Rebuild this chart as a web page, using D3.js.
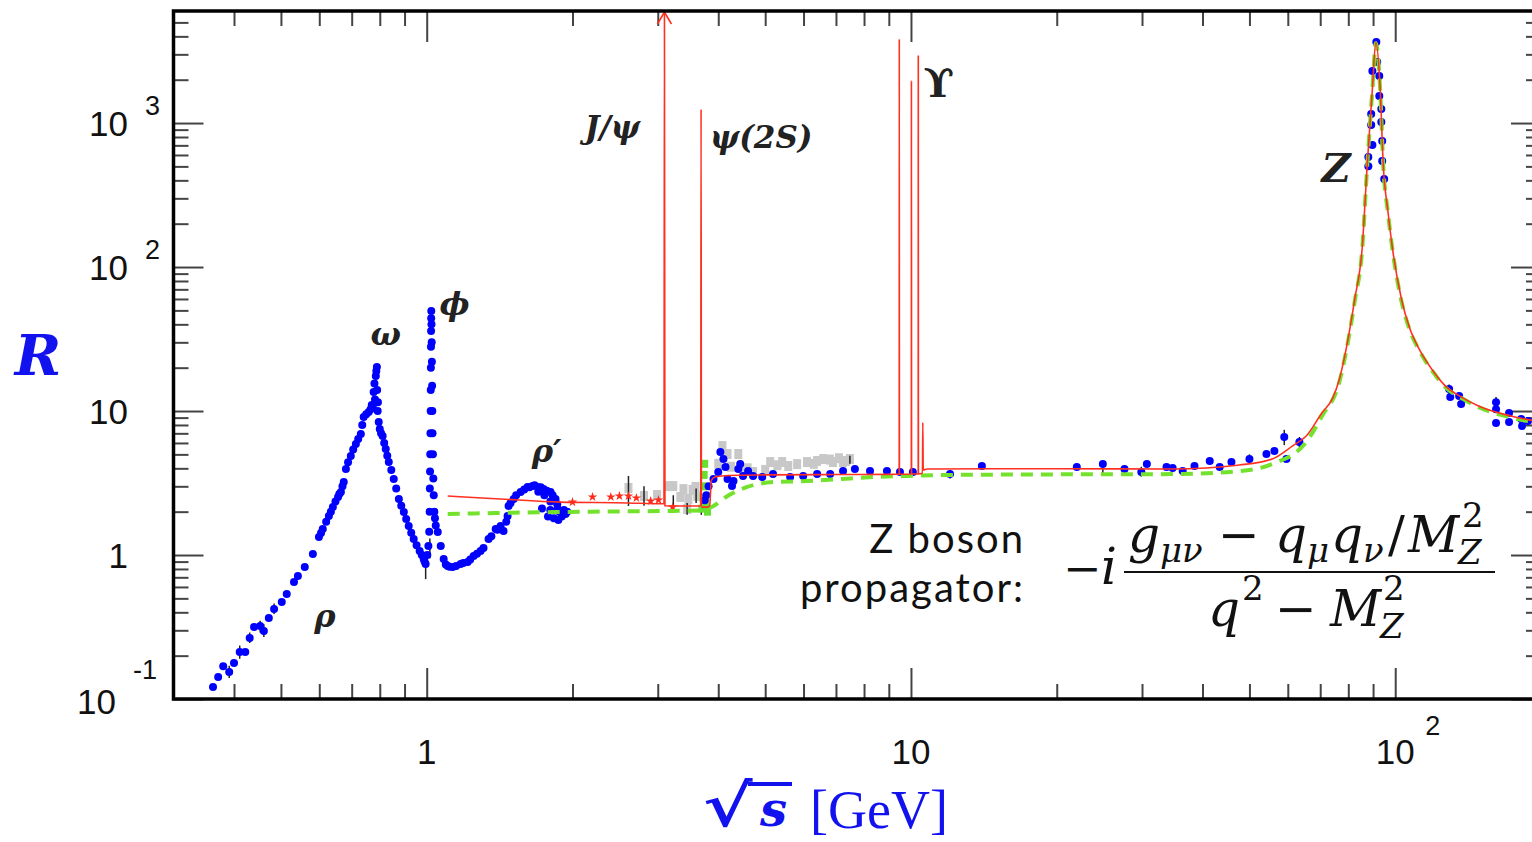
<!DOCTYPE html>
<html>
<head>
<meta charset="utf-8">
<title>R ratio</title>
<script src="https://d3js.org/d3.v7.min.js"></script>
<style>
  body { margin: 0; background: #fff; }
  text { white-space: pre; }
</style>
</head>
<body>
<div id="chart"></div>
<script>
// ---- data (sqrt(s) in GeV, R) ----
let blueLow = [
  [0.362,0.121],[0.371,0.142],[0.380,0.169],[0.391,0.154],[0.400,0.178],[0.411,0.212],[0.422,0.212],
  [0.431,0.265],[0.440,0.316],[0.453,0.321],[0.461,0.297],[0.472,0.365],[0.484,0.422],[0.502,0.472],
  [0.514,0.536],[0.532,0.650],[0.542,0.715],[0.560,0.825],[0.582,1.016],[0.599,1.334],[0.605,1.42],
  [0.610,1.516],[0.620,1.70],[0.628,1.866],[0.634,2.0],[0.640,2.154],[0.648,2.35],[0.656,2.53],
  [0.660,2.65],[0.665,2.738],[0.670,3.0],[0.674,3.21],[0.681,3.96],[0.688,4.4],[0.697,4.87],
  [0.705,5.4],[0.714,5.90],[0.722,6.4],[0.731,6.92],[0.736,8.0],[0.741,9.09],[0.750,9.5],
  [0.759,9.84],[0.766,10.3],[0.770,11],[0.774,10.83],[0.777,13.55],[0.780,15.5],[0.782,12],
  [0.785,17.5],[0.787,19],[0.789,20.2],[0.790,14],[0.792,10],[0.793,11.5],[0.796,8.39],
  [0.800,7.5],[0.805,7.0],[0.811,6.70],[0.817,6.0],[0.823,5.45],[0.829,4.9],[0.835,4.42],
  [0.845,3.9],[0.855,3.37],[0.865,2.9],[0.876,2.45],[0.886,2.2],[0.897,1.99],[0.907,1.78],
  [0.918,1.59],[0.929,1.43],[0.940,1.29],[0.953,1.17],[0.967,1.066],[0.977,1.0],[0.986,0.938],
  [0.990,0.9],[0.995,0.866],[1.003,1.0],[1.008,1.155],[1.012,1.45],[1.014,2.0],[1.015,2.9],
  [1.016,3.8],[1.017,5],[1.018,7],[1.019,10],[1.0195,14],[1.020,20],[1.0205,28],[1.021,36],
  [1.0215,44],[1.022,49.5],[1.023,40],[1.024,30],[1.025,22],[1.026,15],[1.027,10],[1.028,7],
  [1.030,5],[1.032,3.4],[1.034,2.6],[1.037,2.0],[1.040,1.8],[1.044,1.6],[1.054,1.445],
  [1.069,1.155],[1.084,0.938],[1.095,0.86],[1.105,0.839],[1.115,0.83],[1.131,0.825],[1.15,0.84],
  [1.175,0.866],[1.19,0.88],[1.215,0.894],[1.23,0.93],[1.250,0.984],[1.27,1.02],[1.292,1.066],
  [1.31,1.12],[1.342,1.29],[1.36,1.35],[1.388,1.516],[1.40,1.5],[1.421,1.59],[1.441,1.468],
  [1.46,1.7],[1.469,1.866],[1.476,2.19],[1.49,2.3],[1.512,2.45],[1.53,2.6],[1.563,2.738],
  [1.59,2.85],[1.615,2.97],[1.63,2.95],[1.654,3.01],[1.67,3.05],[1.694,2.97],[1.70,2.75],
  [1.72,2.95],[1.73,2.1],[1.743,2.87],[1.75,2.6],[1.77,2.8],[1.78,1.85],[1.80,2.35],[1.802,2.738],
  [1.80,2.05],[1.82,2.6],[1.83,1.8],[1.845,2.45],[1.86,2.25],[1.863,2.09],[1.87,1.75],
  [1.88,2.0],[1.90,1.85],[1.92,2.05],[1.935,1.93],[1.95,2.0]
];
let blueMid = [
  [3.75,2.4],[3.78,2.6],[3.82,3.0],[3.91,3.37],[4.0,3.77],[4.04,5.19],[4.10,4.64],[4.14,4.08],
  [4.18,3.37],[4.27,3.01],[4.30,3.26],[4.40,3.96],[4.44,4.28],[4.50,3.54],[4.61,3.83],[4.72,3.54],
  [4.93,3.48],[5.19,3.65],[5.63,3.48],[5.99,3.54],[6.40,3.65],[6.81,3.65],[7.24,3.83],[7.66,3.96],
  [8.23,3.83],[8.92,3.83],[9.49,3.77],[10.09,3.77]
];
let blueHigh = [
  [12.04,3.65],[14.01,4.15],[22.0,4.08],[24.9,4.28],[27.6,3.96],[29.9,3.77],[30.7,4.28],[33.7,4.08],
  [34.7,4.02],[36.4,3.83],[38.5,4.15],[41.4,4.50],[43.4,4.08],[45.9,4.42],[50.0,4.64],[54.2,5.03],
  [56.3,5.27],[59.0,6.6],[59.6,4.64],[63.4,6.09],
  [91.4,3650],[91.8,2650],[89.7,2300],[92.7,2120],[92.7,1540],[89.2,1155],[93.6,1250],[89.2,968],
  [93.6,1016],[89.7,703],[94.0,750],[88.0,580],[94.0,545],[94.9,408],[88.0,502],
  [129.2,14.2],[129.9,12.5],[135.5,12.7],[136.8,11.2],[161.5,11.5],[161.5,10.3],[161.5,8.25],
  [171.8,9.68],[171.8,8.39],[182,8.8],[182.8,7.87],[188,8.52]
];
let grayPoints = [
  [2.61,2.92],[2.81,2.57],[2.99,2.61],[3.16,3.01],[3.23,3.01],[3.34,2.53],[3.39,2.87],[3.47,2.45],
  [3.54,2.83],[3.59,2.97],[3.62,2.57],[3.45,2.09],[4.08,5.71],[4.18,5.03],[4.40,5.03],[4.50,3.83],
  [4.72,3.77],[5.12,4.42],[5.42,4.42],[5.58,4.15],[5.82,4.28],[6.10,4.42],[6.40,4.50],[6.59,4.64],
  [6.90,4.42],[7.24,4.42],[7.48,4.64],[4.0,4.3],[4.25,4.1],[4.6,4.0],[5.0,3.9],[5.3,4.2],
  [6.3,4.3],[6.8,4.6],[7.1,4.7],[7.35,4.5]
];
let redStars = [[2.0,2.33],[2.20,2.53],[2.40,2.53],[2.50,2.57],[2.61,2.57],[2.71,2.49],[2.90,2.37],[3.01,2.41],[3.22,2.15]];
let greenPoints = [[3.70,2.1],[3.72,2.5],[3.73,3.0],[3.74,3.6],[3.75,4.3],[3.77,2.3],[3.80,2.0]];
let errorBars = [
  [0.391,0.14,0.17],[0.411,0.19,0.235],[0.431,0.245,0.29],[0.453,0.29,0.35],[0.461,0.27,0.33],
  [0.484,0.39,0.46],[0.995,0.68,1.05],[1.015,0.95,1.3],[2.61,2.19,3.54],[2.81,2.2,3.0],
  [3.23,2.1,2.6],[3.45,1.9,2.3],[3.69,1.9,2.5],[3.60,2.3,2.9],[7.48,4.3,4.9],[12.04,3.4,3.9],
  [14.01,3.95,4.35],[22.0,3.9,4.3],[24.9,3.7,4.4],[27.6,3.7,4.2],[29.9,3.5,4.1],[36.4,3.6,4.0],
  [50.0,4.3,5.0],[59.0,5.8,7.4],[63.4,5.6,6.6],[129.2,13,15.3],[161.5,10,12.5]
];
let redCurve = [
  [1.105,2.57],[1.42,2.45],[1.89,2.33],[2.6,2.3],[3.04,2.27],[3.090,2.27],[3.0969,6000],[3.104,2.2],
  [3.3,2.19],[3.680,2.19],[3.6861,1250],[3.692,2.15],[3.80,2.15],[3.84,2.2],[3.87,3.3],[3.95,3.5],
  [4.2,3.57],[5.0,3.6],[7.0,3.62],[9.0,3.63],[9.455,3.64],[9.4603,3830],[9.466,3.64],[10.017,3.65],
  [10.0233,1960],[10.029,3.65],[10.350,3.66],[10.3552,2950],[10.361,3.66],[10.56,3.7],[10.58,8.3],
  [10.60,3.9],[10.8,3.96],[20,3.97],[34.7,3.96],[47.7,4.22],[55.7,4.64],[61.3,5.71],[65.5,6.7],
  [70.7,9.8],[74.1,12.1],[76.7,16.7],[79.2,27],[82.5,60],[85.5,138],[87.5,502],[89.7,1720],
  [91.2,3650],[93.1,1720],[94.5,502],[96.5,250],[98.6,138],[103,60],[107,38],[112,27],[119,19.5],
  [127,14.9],[137,12.5],[149,10.8],[174,9.2],[200,8.4]
];
let greenCurve = [
  [1.105,1.93],[1.9,1.99],[3.0,2.02],[3.7,2.04],[3.91,2.19],[4.18,2.57],[4.59,2.97],[5.19,3.21],
  [6.1,3.26],[7.14,3.37],[8.35,3.48],[9.81,3.54],[11.5,3.59],[20,3.63],[35.9,3.65],[47.7,3.83],
  [55.7,4.28],[65.5,6.09],[70.7,9.3],[76.7,16],[79.2,26],[82.5,58],[85.5,135],[87.5,495],
  [89.7,1700],[91.2,3600],[93.1,1700],[94.5,495],[96.5,245],[98.6,135],[103,58],[107,37],
  [112,26.5],[119,19.2],[127,14.6],[137,12.3],[149,10.6],[174,9.0],[200,8.2]
];
let annotations = [
  ["ρ", 0.616, 0.316, "bi", 32], ["ω", 0.823, 28.7, "bi", 32], ["ϕ", 1.142, 46.4, "bi", 32],
  ["ρ′", 1.768, 4.42, "bi", 32], ["J/ψ", 2.418, 787, "bi", 31], ["ψ(2S)", 4.907, 670, "bi", 31],
  ["ϒ", 11.42, 1515, "b", 40], ["Z", 75.5, 389, "bi", 40]
];
let xMajor = [1, 10, 100];
let xMinor = [0.4,0.5,0.6,0.7,0.8,0.9,2,3,4,5,6,7,8,9,20,30,40,50,60,70,80,90];
let yMajor = [0.1, 1, 10, 100, 1000];
let yMinor = [0.2,0.3,0.4,0.5,0.6,0.7,0.8,0.9,2,3,4,5,6,7,8,9,20,30,40,50,60,70,80,90,
              200,300,400,500,600,700,800,900,2000,3000,4000,5000];
let xLabels = [[1, "1", ""], [10, "10", ""], [100, "10", "2"]];
let yLabels = [[0.1, "10", "-1"], [1, "1", ""], [10, "10", ""], [100, "10", "2"], [1000, "10", "3"]];

// ---- setup ----
let W = 1532, H = 842;
let plotL = 173.5, plotR = 1541, plotT = 11, plotB = 699;
let svg = d3.select("#chart").append("svg").attr("width", W).attr("height", H);

let x = d3.scaleLog().domain([0.3, 200]).range([plotL, plotR]);
let y = d3.scaleLog().domain([0.1, 6000]).range([plotB, plotT]);

svg.append("clipPath").attr("id", "plot")
  .append("rect").attr("x", plotL).attr("y", plotT).attr("width", plotR - plotL).attr("height", plotB - plotT);

// ticks on all four sides, pointing inward
function ticks(axis, tr, vals, size) {
  svg.append("g").attr("transform", tr)
    .call(axis.tickValues(vals).tickSize(size).tickFormat(""))
    .call(g => g.select(".domain").remove())
    .call(g => g.selectAll("line").attr("stroke", "#444").attr("stroke-width", 2));
}
ticks(d3.axisBottom(x), "translate(0," + plotB + ")", xMajor, -31);
ticks(d3.axisBottom(x), "translate(0," + plotB + ")", xMinor, -15);
ticks(d3.axisTop(x), "translate(0," + plotT + ")", xMajor, -31);
ticks(d3.axisTop(x), "translate(0," + plotT + ")", xMinor, -15);
ticks(d3.axisLeft(y), "translate(" + plotL + ",0)", yMajor, -30);
ticks(d3.axisLeft(y), "translate(" + plotL + ",0)", yMinor, -15);
ticks(d3.axisRight(y), "translate(" + plotR + ",0)", yMajor, -30);
ticks(d3.axisRight(y), "translate(" + plotR + ",0)", yMinor, -15);

let data = svg.append("g").attr("clip-path", "url(#plot)");

// gray squares
data.selectAll("rect.gray").data(grayPoints).enter().append("rect")
  .attr("class", "gray")
  .attr("x", d => x(d[0]) - 4).attr("y", d => y(d[1]) - 5)
  .attr("width", 8).attr("height", 10).attr("fill", "#c8c8c8");

// error bars
data.selectAll("line.err").data(errorBars).enter().append("line")
  .attr("class", "err")
  .attr("x1", d => x(d[0])).attr("x2", d => x(d[0]))
  .attr("y1", d => y(d[1])).attr("y2", d => y(d[2]))
  .attr("stroke", "#222").attr("stroke-width", 1.5);

// red stars
data.selectAll("path.star").data(redStars).enter().append("path")
  .attr("class", "star")
  .attr("transform", d => "translate(" + x(d[0]) + "," + y(d[1]) + ")")
  .attr("d", d3.symbol(d3.symbolStar, 28))
  .attr("fill", "#ff2a1a");

// green points
data.selectAll("rect.gp").data(greenPoints).enter().append("rect")
  .attr("class", "gp")
  .attr("x", d => x(d[0]) - 3.5).attr("y", d => y(d[1]) - 4)
  .attr("width", 7).attr("height", 8).attr("fill", "#66e030");

// blue points
data.selectAll("circle").data(blueLow.concat(blueMid, blueHigh)).enter().append("circle")
  .attr("cx", d => x(d[0])).attr("cy", d => y(d[1]))
  .attr("r", 4).attr("fill", "#0000ff");

let line = d3.line().x(d => x(d[0])).y(d => y(d[1])).curve(d3.curveMonotoneX);

data.append("path").datum(greenCurve).attr("d", line)
  .attr("fill", "none").attr("stroke", "#74e22c").attr("stroke-width", 4)
  .attr("stroke-dasharray", "12,8");

data.append("path").datum(redCurve).attr("d", line)
  .attr("fill", "none").attr("stroke", "#ff3020").attr("stroke-width", 1.6);

// arrow head on J/psi line
let jx = x(3.0969);
svg.append("path")
  .attr("d", "M" + (jx - 7) + "," + (plotT + 13) + "L" + jx + "," + (plotT + 1) + "L" + (jx + 7) + "," + (plotT + 13))
  .attr("fill", "none").attr("stroke", "#ff3020").attr("stroke-width", 1.6);

// frame
svg.append("rect").attr("x", plotL).attr("y", plotT).attr("width", plotR - plotL).attr("height", plotB - plotT)
  .attr("fill", "none").attr("stroke", "#000").attr("stroke-width", 3.5);

// tick labels
let lf = "'Liberation Sans', Arial, sans-serif";
yLabels.forEach(d => {
  let yy = y(d[0]);
  let neg = d[2] === "-1";
  svg.append("text").attr("x", neg ? 116 : 128).attr("y", neg ? yy + 15 : yy + 13)
    .attr("text-anchor", "end").attr("font-family", lf).attr("font-size", 35).attr("fill", "#111")
    .text(d[1]);
  if (d[2]) {
    svg.append("text").attr("x", neg ? 133 : 145).attr("y", neg ? yy - 20 : yy - 8)
      .attr("font-family", lf).attr("font-size", 27).attr("fill", "#111").text(d[2]);
  }
});
xLabels.forEach(d => {
  let xx = x(d[0]);
  svg.append("text").attr("x", xx).attr("y", 764)
    .attr("text-anchor", "middle").attr("font-family", lf).attr("font-size", 35).attr("fill", "#111")
    .text(d[1]);
  if (d[2]) {
    svg.append("text").attr("x", xx + 30).attr("y", 735)
      .attr("font-family", lf).attr("font-size", 27).attr("fill", "#111").text(d[2]);
  }
});

// axis titles
let serifB = "'DejaVu Serif', serif";
let blue = "#1212ee";
svg.append("text").attr("x", 38).attr("y", 375).attr("text-anchor", "middle")
  .attr("font-family", serifB).attr("font-weight", "bold").attr("font-style", "italic")
  .attr("font-size", 56).attr("fill", blue).text("R");

svg.append("text").attr("transform", "translate(703,826) scale(1.3,1)")
  .attr("font-family", serifB).attr("font-weight", "bold")
  .attr("font-size", 58).attr("fill", blue).text("√");
svg.append("line").attr("x1", 748).attr("x2", 792).attr("y1", 784).attr("y2", 784)
  .attr("stroke", blue).attr("stroke-width", 4);
svg.append("text").attr("x", 760).attr("y", 826)
  .attr("font-family", serifB).attr("font-weight", "bold").attr("font-style", "italic")
  .attr("font-size", 48).attr("fill", blue).text("s");
svg.append("text").attr("x", 810).attr("y", 828)
  .attr("font-family", "'Liberation Serif', serif")
  .attr("font-size", 54).attr("fill", blue).text("[GeV]");

// resonance labels
annotations.forEach(a => {
  svg.append("text").attr("x", x(a[1])).attr("y", y(a[2])).attr("text-anchor", "middle")
    .attr("font-family", serifB).attr("font-weight", "bold")
    .attr("font-style", a[3] === "bi" ? "italic" : "normal")
    .attr("font-size", a[4]).attr("fill", "#222").text(a[0]);
});

// Z boson propagator
let sans = "Lato, 'Open Sans', sans-serif";
svg.append("text").attr("x", 1025).attr("y", 553).attr("text-anchor", "end")
  .attr("font-family", sans).attr("font-size", 40).attr("letter-spacing", 2)
  .attr("fill", "#111").text("Z boson");
svg.append("text").attr("x", 1025).attr("y", 602).attr("text-anchor", "end")
  .attr("font-family", sans).attr("font-size", 40).attr("letter-spacing", 2)
  .attr("fill", "#111").text("propagator:");

// formula pieces: [text, x, baseline, size, italic]
function mathText(parts) {
  let t = svg.append("text").attr("font-family", serifB).attr("fill", "#111");
  parts.forEach(p => {
    t.append("tspan").attr("x", p[1]).attr("y", p[2]).attr("font-size", p[3])
      .attr("font-style", p[4] ? "italic" : "normal").text(p[0]);
  });
}
mathText([["−", 1063, 584, 46, false], ["i", 1101, 584, 50, true]]);
svg.append("line").attr("x1", 1124).attr("x2", 1495).attr("y1", 572).attr("y2", 572)
  .attr("stroke", "#111").attr("stroke-width", 2);
mathText([
  ["g", 1128, 552, 50, true], ["μν", 1160, 562, 34, true], ["−", 1218, 552, 50, false],
  ["q", 1275, 552, 50, true], ["μ", 1307, 562, 34, true], ["q", 1331, 552, 50, true],
  ["ν", 1363, 562, 34, true], ["/", 1388, 552, 50, false], ["M", 1408, 552, 50, true],
  ["2", 1462, 527, 34, false], ["Z", 1458, 564, 34, true]
]);
mathText([
  ["q", 1208, 626, 50, true], ["2", 1242, 600, 34, false], ["−", 1275, 626, 50, false],
  ["M", 1330, 626, 50, true], ["2", 1383, 600, 34, false], ["Z", 1380, 638, 34, true]
]);
</script>
</body>
</html>
